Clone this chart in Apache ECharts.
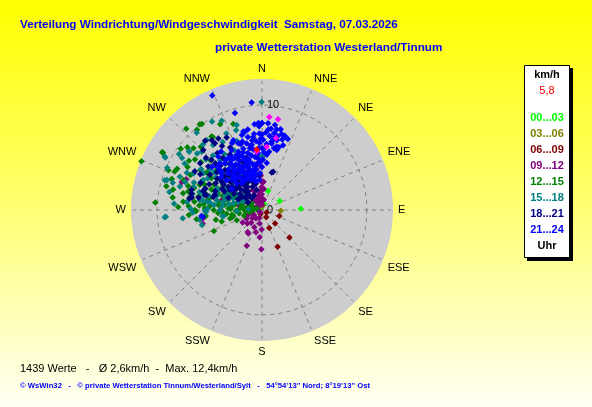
<!DOCTYPE html>
<html>
<head>
<meta charset="utf-8">
<script src="https://cdn.jsdelivr.net/npm/echarts@6.0.0/dist/echarts.min.js"></script>
<style>
  html, body { margin: 0; padding: 0; }
  #chart { width: 592px; height: 407px; }
</style>
</head>
<body>
<div id="chart"></div>
<script>
// wind direction labels, 16 sectors
const directions = ["N", "NNE", "NE", "ENE", "E", "ESE", "SE", "SSE",
  "S", "SSW", "SW", "WSW", "W", "WNW", "NW", "NNW"];

// legend (time of day groups)
const hourLabels = ["00...03", "03...06", "06...09", "09...12", "12...15", "15...18", "18...21", "21...24"];
const hourColors = ["#00ff00", "#808000", "#800000", "#800080", "#008000", "#008080", "#000080", "#0000ff"];

// points: [direction in degrees, speed in km/h]
const h00_03 = [[350,0.3],[20,0.6],[330,0.8],[300,0.5],[18,1.9],[63,1.9],[88,3.7]];

const h03_06 = [[280,0.3],[10,0.4],[320,0.4],[92,1.8]];

const h06_09 = [[200,0.4],[120,0.5],[150,0.8],[109,1.75],[136,1.8],[158,1.85],[135,3.7],[157,3.8]];

const h09_12 = [[237,2.2],[227,1.9],[204,1.8],[181,1.85],[213,2.5],[210,2.6],[203,3.7],[181,3.75],
  [257,2.9],[270,3.95],[1,2.6],[359,1.5],[7,1.0],[352,0.7],[217,0.3],[279,2.0],[304,6.0],[3,2.7],
  [359,2.2],[353,1.6],[359,1.1],[327,0.95],[288,1.0],[282,2.3],[344,2.5],[356,4.6],[355,5.7],
  [302,3.25],[284,3.95],[289,8.1],[262,5.65],[292,7.8],[257,5.8],[262,5.9],
  [320,1.2],[330,1.6],[340,1.3],[350,0.9],[355,1.8],[345,2.6],[335,2.1],[325,2.8],[310,2.3],
  [300,1.6],[290,1.9],[280,1.3],[270,1.6],[260,1.0],[250,1.4],[240,0.9],[230,1.2],[215,1.0],
  [200,0.8],[190,1.3],[358,3.3],[352,3.9],[0,0.5],[10,1.0],[5,2.0],[345,3.5],[310,3.3],
  [296,2.8],[358,4.2],[356,5.0],[290,0.7],[320,0.5],[270,0.4],[240,1.7],[220,1.6],[195,2.2],
  [185,2.6],[340,1.9],[333,0.9],[348,1.4]];

const h12_15 = [[292,12.4],[317,10.6],[321,9.85],[324,10.1],[334,9.1],[341.5,8.65],[300,11.0],
  [307,9.7],[293,9.7],[294,9.1],[274,10.2],[282,7.7],[273,7.0],[269,6.3],[246.5,5.0],[289,9.1],
  [326,8.4],[325,10.0],[300,10.9],[283,8.7],[291,8.0],[284,7.25],[270,6.4],[276,7.55],[272,5.45],
  [307,8.0],[296,7.6],[303,7.0],[325.5,8.5],[302,5.7],[292,6.4],[291,4.5],[296,4.65],[283,5.1],
  [278,3.6],[270,2.25],[276,1.6],[303,1.17],[287,0.53],[296,2.9],[288,2.0],[300,3.5],[273,3.2],
  [261,2.9],[255,3.15],[275,1.8],[270,0.83],[276.5,4.2],
  [290,4.0],[286,3.4],[282,2.6],[278,2.0],[274,1.2],[266,1.6],[262,2.2],[258,2.8],[264,3.4],
  [270,4.6],[276,5.6],[282,6.2],[288,6.8],[294,6.0],[298,5.2],[302,4.4],[296,3.2],[290,2.2],
  [284,1.4],[306,5.0],[310,5.8],[314,6.8],[308,7.4],[300,8.2],[304,6.4],[292,5.2],[286,4.8],
  [280,4.2],[272,3.0],[268,2.5],[276,2.9],[296,1.2],[305,2.4],[288,1.0],[260,1.2],[252,1.8],
  [248,2.6],[266,4.2],[274,5.0],[280,7.0],[274,6.0],
  [272,8.0],[278,8.6],[266,7.0],[262,6.3],[258,4.5],[254,4.0],[264,5.4],[268,3.8],[286,5.6],
  [294,3.6],[298,2.5],[302,1.8],[306,3.3],[312,4.2],[284,9.4],[296,9.0],[310,9.3],[316,8.4],
  [312,8.8],[288,7.4],[280,5.3],[270,5.4],[277,6.5],[304,8.4]];

const h15_18 = [[359.8,10.3],[330.6,9.7],[343.4,8.46],[298.5,10.5],[309,8.95],[287,9.7],[266,9.2],
  [286,8.15],[261,6.0],[291,5.8],[261,3.7],[0,5.0],[319.8,9.65],[298.8,10.6],[304,9.55],[308.7,8.9],
  [311,8.2],[318,8.4],[321.7,8.5],[301,8.6],[287.5,9.5],[292,8.45],[287,8.9],[296.4,8.0],[288.7,6.9],
  [297,6.3],[307.6,6.3],[265.7,9.3],[278.5,5.3],[335.7,9.35],[268,5.35],[335,8.05],[323,7.75],
  [289.6,4.76],[289,3.4],[313,3.96],[330,3.86],[342,4.7],[0,5.1],[270,4.0],[273,1.3],[311,2.2],
  [279,5.67],[269.3,5.44],[261,3.73],[268,2.4],[256,5.9],[261.4,3.83],
  [300,4.1],[296,3.5],[292,3.0],[288,4.5],[285,5.2],[290,5.8],[295,6.4],[300,6.0],[305,5.4],
  [310,6.4],[304,7.0],[298,7.4],[292,7.0],[286,6.2],[282,4.4],[280,3.2],[288,2.4],[294,2.0],
  [302,2.8],[308,3.3],[314,3.8],[312,7.2],[318,7.0],[290,3.8],[284,5.8],[278,5.0],[296,4.8],
  [306,4.6],[300,2.0],[284,2.8],[276,3.8],[322,5.6],[326,6.4],[316,5.2],[330,7.5],[335,6.3],
  [340,7.0],[342,8.0],
  [283,6.8],[279,6.0],[276,7.2],[271,6.8],[274,8.4],[281,9.0],[294,9.9],[303,9.1],[314,8.0],
  [308,5.8],[298,3.9],[294,4.6],[287,3.6],[282,3.8],[276,4.6],[271,5.2],[268,6.6],[264,7.6],
  [290,7.8],[302,6.6],[320,6.2],[318,4.4],[324,4.9],[312,4.6]];

const h18_21 = [[320.6,8.56],[328.6,8.0],[334,7.7],[359.8,8.27],[16.4,3.8],[286,7.0],[280,6.8],
  [285,5.5],[317.2,5.2],[319,4.4],[320,3.5],[325.8,2.9],[306.5,3.2],[304.7,3.9],[308,4.9],[323,2.2],
  [303,2.3],[318.6,1.5],[14.6,3.7],[324.3,8.2],[315.6,8.0],[324.8,7.8],[314.8,6.8],[283,6.9],
  [279,7.0],[281,6.15],[285,4.8],[290.8,5.8],[284.7,5.6],[287.7,4.7],
  [320,5.0],[316,4.6],[312,4.0],[308,3.6],[304,4.4],[300,5.1],[296,4.0],[310,5.6],[318,3.2],
  [322,3.8],[326,4.2],[330,3.6],[334,3.0],[328,2.6],[320,2.2],[314,2.8],[306,2.6],[300,3.1],
  [296,5.6],[292,4.8],[325,5.4],[330,6.1],[335,5.5],[340,4.6],[343,3.9],[348,3.3],[338,2.4],
  [345,2.0],[315,6.3],[309,6.6],[304,6.0],[300,6.8],[322,6.9],[328,7.2],[333,6.7],[319,1.8],
  [332,1.6],[306,1.9],[294,2.5],[298,1.5],[338,5.0],[312,4.8],[324,3.0],[317,5.8],[343,5.2],
  [350,4.0],[347,2.6],[355,3.3],
  [302,3.6],[298,4.3],[305,5.2],[311,3.2],[315,4.0],[321,4.7],[327,5.0],[331,4.5],[336,3.6],
  [341,2.9],[310,2.0],[297,2.4],[290,3.4],[288,5.9],[294,6.4],[300,7.4],[307,7.4],[313,7.3],
  [327,3.3],[318,2.5],[305,4.7],[323,6.2],[335,4.0]];

const h21_24 = [[336.5,11.9],[354.5,10.3],[344.4,9.6],[355,8.2],[0,8.3],[4,8.3],[8.7,8.2],[4.5,7.7],
  [354,7.3],[347.7,7.65],[349,7.1],[345,7.4],[340.4,6.75],[351,6.3],[0,7.2],[1,6.7],[0,5.9],
  [356,5.4],[352.5,5.1],[346,5.6],[342,5.8],[335,5.8],[329,5.6],[321.6,5.7],[313.6,5.5],[317.4,4.75],
  [329,4.4],[342.5,4.3],[351,4.2],[358,4.6],[351,3.4],[334,3.35],[320.7,6.6],[311,6.3],[325,6.8],
  [337.7,7.2],[8.3,6.4],[13,6.2],[9,6.9],[5,5.3],[5.8,4.5],[6.3,7.8],[14.5,7.5],[10.3,6.95],
  [13.8,5.9],[264.3,5.8],[263.6,5.7],[357.6,8.3],[346.6,7.7],[10.4,7.8],[13.4,6.05],
  [350,6.2],[352,5.8],[347,6.5],[343,6.1],[340,5.4],[338,6.0],[335,5.2],[333,4.8],[330,5.0],
  [327,5.9],[325,4.6],[345,5.0],[348,4.5],[341,4.2],[337,3.8],[356,4.9],[358,6.4],[353,7.0],
  [349,5.3],[344,3.6],[339,4.5],[334,3.9],[331,4.2],[328,3.5],[322,4.2],[319,3.9],[346,3.2],
  [352,3.9],[357,3.5],[355,6.6],[342,6.6],[336,7.0],[351,4.4],[347,3.9],[332,5.6],[326,5.3],
  [321,5.0],[316,4.1],[318,6.0],[312,5.2],[310,4.4],[305,3.5],[340,3.1],[355,2.9],[0,4.1],
  [2,5.5],[358,7.3],[4,6.3],[8,6.6],[12,6.8],[16,7.0],[18,6.5],[11,6.0],[15,6.2],[20,7.2],
  [6,7.1],[9,7.4],[13,7.9],
  [344,6.8],[341,5.0],[338,5.6],[336,4.4],[333,6.4],[330,5.8],[327,4.9],[324,5.9],[346,4.7],
  [349,6.0],[352,6.7],[354,4.4],[357,5.9],[359,6.8],[1,4.8],[3,6.0],[7,5.6],[349,3.7],
  [343,4.9],[339,3.4],[331,3.3],[323,3.2],[316,3.5],[309,5.0],[314,5.9],[320,4.3],[326,3.8],
  [334,4.6],[341,3.7],[348,2.8],[3,7.4],[358,8.0],[350,7.8],[12,7.2],[17,7.4]];

// last hour and current value
const lastHour = [[4.5,8.9],[10,8.8],[11,7.0],[4.2,6.05],[354.8,5.6]];
const current = [[355,5.8]];
const currentSpeed = "5,8";

const statsText = "1439 Werte   -   Ø 2,6km/h  -  Max. 12,4km/h";
const footerText = "© WsWin32   -   © private Wetterstation Tinnum/Westerland/Sylt   -   54°54'13'' Nord; 8°19'13'' Ost";

const chart = echarts.init(document.getElementById("chart"), null, { renderer: "canvas" });

function pointSeries(data, color) {
  return {
    type: "scatter",
    coordinateSystem: "polar",
    polarIndex: 1,
    symbol: "diamond",
    symbolSize: 6.5,
    silent: true,
    z: 5,
    itemStyle: { color: color, opacity: 1 },
    data: data.map(d => [d[1], d[0]])
  };
}

const groups = [h00_03, h03_06, h06_09, h09_12, h12_15, h15_18, h18_21, h21_24];
const series = groups.map((g, i) => pointSeries(g, hourColors[i]));
series.push(pointSeries(lastHour, "#ff00ff"));
series.push(pointSeries(current, "#ff0000"));

const dashed = { color: "#808080", type: [4, 4], width: 1 };
const font = "'Liberation Sans', Arial";

// legend box on the right
const legendItems = [
  { type: "rect", shape: { x: 527, y: 68, width: 46, height: 193 }, style: { fill: "#000" } },
  { type: "rect", shape: { x: 524.5, y: 65.5, width: 45, height: 192 }, style: { fill: "#fff", stroke: "#000", lineWidth: 1 } },
  { type: "text", style: { text: "km/h", x: 547, y: 75, font: "bold 11px " + font, fill: "#000", align: "center", verticalAlign: "middle", textAlign: "center", textVerticalAlign: "middle" } },
  { type: "text", style: { text: currentSpeed, x: 547, y: 91, font: "11px " + font, fill: "#ff0000", align: "center", verticalAlign: "middle", textAlign: "center", textVerticalAlign: "middle" } },
  { type: "text", style: { text: "Uhr", x: 547, y: 246, font: "bold 11px " + font, fill: "#000", align: "center", verticalAlign: "middle", textAlign: "center", textVerticalAlign: "middle" } }
];
hourLabels.forEach((lab, i) => {
  legendItems.push({
    type: "text",
    style: {
      text: lab, x: 547, y: 118 + i * 16,
      font: "bold 11px " + font, fill: hourColors[i],
      align: "center", verticalAlign: "middle", textAlign: "center", textVerticalAlign: "middle"
    }
  });
});

function label(text, x, y, f, color) {
  return { type: "text", style: { text: text, x: x, y: y, font: f, fill: color,
    align: "left", verticalAlign: "middle", textAlign: "left", textVerticalAlign: "middle" } };
}

const option = {
  animation: false,
  backgroundColor: {
    type: "linear", x: 0, y: 0, x2: 0, y2: 1,
    colorStops: [
      { offset: 0, color: "#ffff00" },
      { offset: 0.5, color: "#ffff70" },
      { offset: 1, color: "#fffff4" }
    ]
  },
  // polar 0 only paints the grey disc, polar 1 carries grid, labels and points
  polar: [
    { center: [262, 210], radius: 130 },
    { center: [262, 210], radius: 130 }
  ],
  angleAxis: [
    {
      polarIndex: 0, type: "value", min: 0, max: 360, startAngle: 90, clockwise: true, z: -2,
      axisLine: { show: false }, axisTick: { show: false }, axisLabel: { show: false },
      splitLine: { show: false }
    },
    {
      polarIndex: 1, type: "value", z: 2,
      min: 0, max: 360, interval: 22.5,
      startAngle: 90, clockwise: true,
      axisLine: { show: true, lineStyle: { color: "#cdcdcd", width: 2 } },
      axisTick: { show: false },
      axisLabel: {
        margin: 6,
        color: "#000",
        fontSize: 11,
        fontFamily: font,
        formatter: v => (v >= 360 ? "" : directions[Math.round(v / 22.5) % 16])
      },
      splitLine: { show: true, lineStyle: dashed }
    }
  ],
  radiusAxis: [
    {
      polarIndex: 0, type: "value", min: 0, max: 12.4, z: -3,
      axisLine: { show: false }, axisTick: { show: false }, axisLabel: { show: false },
      splitLine: { show: false },
      splitArea: { show: true, areaStyle: { color: ["#cdcdcd"] } }
    },
    {
      polarIndex: 1, type: "value", z: 1,
      min: 0, max: 12.4, interval: 10,
      axisLine: { show: false },
      axisTick: { show: false },
      axisLabel: {
        color: "#000", fontSize: 11, fontFamily: font,
        showMinLabel: true, align: "left", margin: -5,
        formatter: v => (v === 0 || v === 10 ? String(v) : "")
      },
      splitLine: { show: true, lineStyle: dashed }
    }
  ],
  graphic: [
    label("Verteilung Windrichtung/Windgeschwindigkeit  Samstag, 07.03.2026", 20, 25, "bold 11.7px " + font, "#0000ff"),
    label("private Wetterstation Westerland/Tinnum", 215, 48, "bold 11.7px " + font, "#0000ff"),
    label(statsText, 20, 369, "11px " + font, "#000"),
    label(footerText, 20, 386, "bold 7.7px " + font, "#0000ff")
  ].concat(legendItems),
  series: series
};

chart.setOption(option);
</script>
</body>
</html>
